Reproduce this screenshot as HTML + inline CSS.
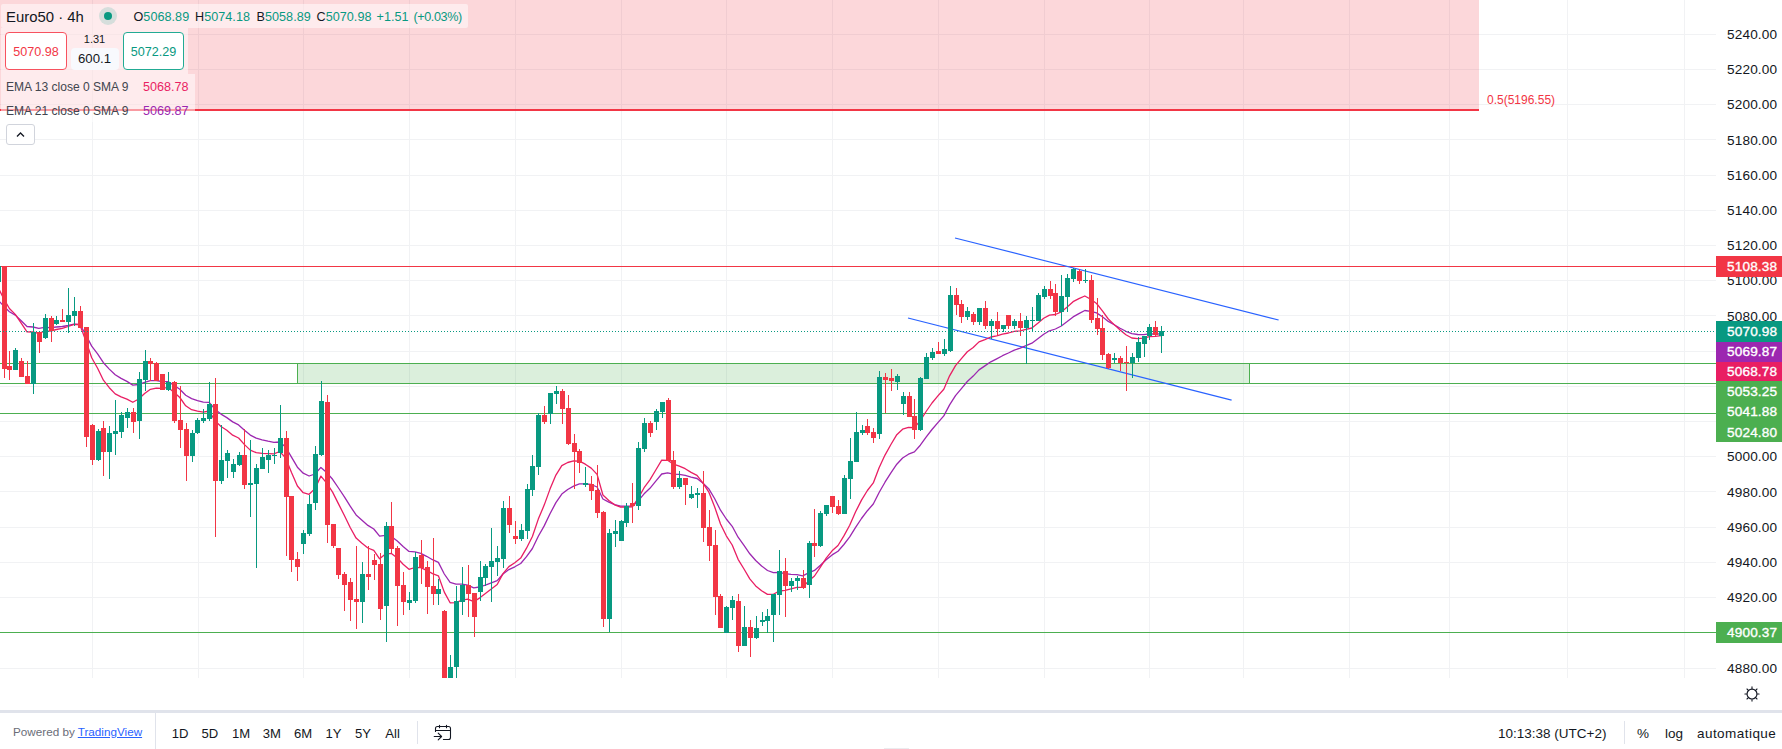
<!DOCTYPE html>
<html lang="fr"><head><meta charset="utf-8"><title>Euro50 4h</title>
<style>
html,body{margin:0;padding:0;background:#fff;}
body{width:1782px;height:749px;position:relative;overflow:hidden;font-family:"Liberation Sans",sans-serif;color:#131722;}
.pane{position:absolute;left:0;top:0;}
.pl{position:absolute;left:1727px;width:54px;height:16px;line-height:16px;font-size:13.6px;letter-spacing:0.15px;color:#131722;white-space:nowrap;}
.tag{position:absolute;left:1716px;width:66px;font-size:13.6px;letter-spacing:0.15px;-webkit-text-stroke:0.35px #fff;color:#fff;box-sizing:border-box;padding-left:11px;white-space:nowrap;}
.axisbg{position:absolute;left:1716px;top:0;width:66px;height:678px;background:#fff;}
.lg{position:absolute;background:rgba(255,255,255,0.5);}
.t{position:absolute;white-space:nowrap;}
.oh{top:9px;font-size:12.6px;line-height:16px;letter-spacing:0.05px;color:#131722}
.oh span{color:#089981}
.sep{position:absolute;left:0;top:710px;width:1782px;height:3px;background:#e0e3eb;}
.bb{position:absolute;top:713px;left:0;width:1782px;height:36px;background:#fff;}
.bt{position:absolute;top:726px;height:16px;line-height:16px;font-size:13.5px;color:#131722;white-space:nowrap;}
</style></head><body>
<svg class="pane" width="1716" height="678" viewBox="0 0 1716 678">
<g shape-rendering="crispEdges" fill="#f1f2f4">
<rect x="92" y="0" width="1" height="678"/>
<rect x="198" y="0" width="1" height="678"/>
<rect x="303" y="0" width="1" height="678"/>
<rect x="409" y="0" width="1" height="678"/>
<rect x="515" y="0" width="1" height="678"/>
<rect x="621" y="0" width="1" height="678"/>
<rect x="726" y="0" width="1" height="678"/>
<rect x="832" y="0" width="1" height="678"/>
<rect x="938" y="0" width="1" height="678"/>
<rect x="1044" y="0" width="1" height="678"/>
<rect x="1149" y="0" width="1" height="678"/>
<rect x="1243" y="0" width="1" height="678"/>
<rect x="1349" y="0" width="1" height="678"/>
<rect x="1449" y="0" width="1" height="678"/>
<rect x="1567" y="0" width="1" height="678"/>
<rect x="1684" y="0" width="1" height="678"/>
<rect x="0" y="34" width="1716" height="1"/>
<rect x="0" y="69" width="1716" height="1"/>
<rect x="0" y="104" width="1716" height="1"/>
<rect x="0" y="139" width="1716" height="1"/>
<rect x="0" y="175" width="1716" height="1"/>
<rect x="0" y="210" width="1716" height="1"/>
<rect x="0" y="245" width="1716" height="1"/>
<rect x="0" y="280" width="1716" height="1"/>
<rect x="0" y="315" width="1716" height="1"/>
<rect x="0" y="351" width="1716" height="1"/>
<rect x="0" y="386" width="1716" height="1"/>
<rect x="0" y="421" width="1716" height="1"/>
<rect x="0" y="456" width="1716" height="1"/>
<rect x="0" y="491" width="1716" height="1"/>
<rect x="0" y="527" width="1716" height="1"/>
<rect x="0" y="562" width="1716" height="1"/>
<rect x="0" y="597" width="1716" height="1"/>
<rect x="0" y="632" width="1716" height="1"/>
<rect x="0" y="668" width="1716" height="1"/>
</g>
<g shape-rendering="crispEdges">
<rect x="0" y="0" width="1479" height="110" fill="#f23645" fill-opacity="0.2"/>
<rect x="0" y="109" width="1479" height="2" fill="#f23645"/>
<rect x="297" y="363" width="953" height="21" fill="#4caf50" fill-opacity="0.2"/>
<rect x="297" y="363" width="1" height="21" fill="#4caf50"/>
<rect x="1249" y="363" width="1" height="21" fill="#4caf50"/>
<rect x="0" y="363" width="1716" height="1" fill="#4caf50"/>
<rect x="0" y="383" width="1716" height="1" fill="#4caf50"/>
<rect x="0" y="413" width="1716" height="1" fill="#4caf50"/>
<rect x="0" y="632" width="1716" height="1" fill="#4caf50"/>
<rect x="0" y="266" width="1716" height="1" fill="#f23645"/>
</g>
<g stroke="#2962ff" stroke-width="1.2" fill="none">
<line x1="955" y1="238" x2="1278.6" y2="320"/>
<line x1="908" y1="318" x2="1231.6" y2="400.2"/>
</g>
<path d="M-8.2 303.0 L-2.3 299.7 L3.5 305.9 L9.4 311.7 L15.3 315.1 L21.2 320.7 L27.0 326.5 L32.9 327.0 L38.8 328.3 L44.7 327.4 L50.5 327.7 L56.4 327.0 L62.3 326.5 L68.2 325.5 L74.1 324.2 L79.9 324.5 L85.8 334.7 L91.7 346.1 L97.6 353.8 L103.4 362.7 L109.3 369.1 L115.2 374.7 L121.1 378.4 L126.9 381.4 L132.8 385.1 L138.7 384.5 L144.6 382.4 L150.4 380.7 L156.3 380.7 L162.2 381.5 L168.1 381.6 L174.0 385.2 L179.8 389.2 L185.7 395.2 L191.6 398.6 L197.5 400.6 L203.3 402.2 L209.2 402.3 L215.1 409.4 L221.0 414.1 L226.8 417.6 L232.7 421.9 L238.6 424.9 L244.5 430.3 L250.3 435.1 L256.2 438.1 L262.1 439.8 L268.0 441.2 L273.9 442.4 L279.7 442.0 L285.6 447.0 L291.5 457.2 L297.4 467.2 L303.2 473.2 L309.1 476.0 L315.0 474.0 L320.9 467.4 L326.7 472.6 L332.6 479.3 L338.5 488.0 L344.4 496.8 L350.2 506.2 L356.1 514.9 L362.0 520.2 L367.9 525.4 L373.8 529.0 L379.6 536.2 L385.5 535.3 L391.4 536.5 L397.3 541.0 L403.1 546.5 L409.0 551.4 L414.9 551.8 L420.8 553.3 L426.6 556.3 L432.5 559.7 L438.4 562.4 L444.3 574.0 L450.1 582.4 L456.0 584.1 L461.9 584.2 L467.8 585.1 L473.7 587.9 L479.5 587.0 L485.4 585.1 L491.3 582.9 L497.2 580.6 L503.0 574.0 L508.9 569.6 L514.8 566.8 L520.7 563.5 L526.5 556.7 L532.4 548.5 L538.3 536.3 L544.2 525.9 L550.0 513.8 L555.9 502.6 L561.8 494.1 L567.7 489.5 L573.6 486.1 L579.4 483.9 L585.3 483.8 L591.2 484.5 L597.1 487.0 L602.9 499.0 L608.8 502.1 L614.7 504.7 L620.6 506.2 L626.4 506.2 L632.3 506.2 L638.2 500.9 L644.1 493.8 L649.9 488.3 L655.8 481.2 L661.7 474.0 L667.6 472.8 L673.5 474.1 L679.3 474.4 L685.2 475.4 L691.1 477.1 L697.0 478.5 L702.8 483.0 L708.7 488.7 L714.6 498.5 L720.5 510.2 L726.3 519.0 L732.2 526.3 L738.1 537.2 L744.0 545.4 L749.8 553.8 L755.7 560.5 L761.6 565.9 L767.5 570.5 L773.4 572.6 L779.2 572.5 L785.1 573.7 L791.0 574.3 L796.9 574.7 L802.7 575.8 L808.6 572.9 L814.5 570.4 L820.4 565.2 L826.2 559.7 L832.1 554.9 L838.0 551.2 L843.9 544.5 L849.7 536.9 L855.6 527.4 L861.5 518.5 L867.4 510.7 L873.3 504.0 L879.1 492.5 L885.0 482.2 L890.9 472.9 L896.8 464.2 L902.6 458.0 L908.5 454.2 L914.4 451.9 L920.3 445.2 L926.1 437.2 L932.0 429.5 L937.9 422.6 L943.8 415.9 L949.6 404.9 L955.5 395.7 L961.4 388.6 L967.3 381.5 L973.2 376.1 L979.0 369.9 L984.9 365.9 L990.8 361.8 L996.7 358.8 L1002.5 355.7 L1008.4 353.0 L1014.3 350.1 L1020.2 348.1 L1026.0 345.6 L1031.9 343.2 L1037.8 338.8 L1043.7 334.3 L1049.5 330.8 L1055.4 329.0 L1061.3 326.0 L1067.2 321.6 L1073.1 316.9 L1078.9 313.6 L1084.8 310.5 L1090.7 311.3 L1096.6 312.9 L1102.4 316.7 L1108.3 321.4 L1114.2 324.7 L1120.1 328.2 L1125.9 331.3 L1131.8 333.7 L1137.7 334.5 L1143.6 334.6 L1149.5 333.9 L1155.3 334.0 L1161.2 333.8" stroke="#9c27b0" stroke-width="1.3" fill="none" stroke-linejoin="round"/>
<path d="M-8.2 290.0 L-2.3 286.6 L3.5 298.3 L9.4 308.5 L15.3 314.4 L21.2 323.2 L27.0 331.9 L32.9 332.0 L38.8 333.3 L44.7 331.2 L50.5 331.1 L56.4 329.5 L62.3 328.4 L68.2 326.5 L74.1 324.3 L79.9 324.7 L85.8 340.8 L91.7 357.8 L97.6 368.3 L103.4 380.2 L109.3 387.7 L115.2 393.9 L121.1 396.9 L126.9 399.1 L132.8 402.3 L138.7 399.0 L144.6 393.5 L150.4 389.3 L156.3 388.1 L162.2 388.3 L168.1 387.4 L174.0 392.2 L179.8 397.5 L185.7 405.8 L191.6 409.7 L197.5 411.1 L203.3 412.1 L209.2 411.0 L215.1 420.9 L221.0 426.5 L226.8 430.3 L232.7 435.2 L238.6 438.0 L244.5 444.6 L250.3 450.1 L256.2 452.7 L262.1 453.3 L268.0 453.6 L273.9 453.8 L279.7 451.5 L285.6 457.9 L291.5 472.5 L297.4 486.0 L303.2 492.7 L309.1 494.3 L315.0 488.6 L320.9 476.1 L326.7 483.1 L332.6 492.1 L338.5 503.9 L344.4 515.5 L350.2 527.5 L356.1 538.1 L362.0 543.3 L367.9 548.0 L373.8 550.4 L379.6 558.8 L385.5 554.1 L391.4 553.4 L397.3 558.0 L403.1 564.2 L409.0 569.3 L414.9 567.5 L420.8 567.6 L426.6 570.3 L432.5 573.6 L438.4 575.8 L444.3 592.1 L450.1 602.8 L456.0 602.6 L461.9 600.1 L467.8 599.2 L473.7 601.6 L479.5 598.1 L485.4 593.6 L491.3 588.9 L497.2 584.5 L503.0 573.6 L508.9 566.6 L514.8 562.7 L520.7 558.1 L526.5 548.2 L532.4 536.5 L538.3 519.1 L544.2 505.1 L550.0 489.1 L555.9 475.1 L561.8 465.6 L567.7 462.5 L573.6 460.9 L579.4 461.1 L585.3 464.2 L591.2 468.1 L597.1 474.4 L602.9 495.0 L608.8 500.4 L614.7 504.8 L620.6 507.1 L626.4 507.0 L632.3 506.8 L638.2 498.4 L644.1 487.7 L649.9 479.8 L655.8 470.0 L661.7 460.2 L667.6 460.3 L673.5 464.1 L679.3 466.1 L685.2 468.7 L691.1 472.4 L697.0 475.3 L702.8 482.8 L708.7 491.8 L714.6 506.7 L720.5 524.0 L726.3 535.8 L732.2 545.0 L738.1 559.3 L744.0 569.0 L749.8 578.8 L755.7 585.9 L761.6 590.8 L767.5 594.4 L773.4 594.3 L779.2 591.0 L785.1 590.3 L791.0 588.9 L796.9 587.4 L802.7 587.4 L808.6 581.0 L814.5 576.0 L820.4 567.1 L826.2 558.2 L832.1 550.8 L838.0 545.5 L843.9 535.9 L849.7 525.2 L855.6 511.8 L861.5 500.1 L867.4 490.5 L873.3 482.9 L879.1 467.8 L885.0 455.1 L890.9 444.5 L896.8 434.7 L902.6 429.2 L908.5 427.4 L914.4 427.7 L920.3 420.6 L926.1 411.5 L932.0 403.0 L937.9 395.9 L943.8 389.2 L949.6 375.8 L955.5 365.6 L961.4 358.6 L967.3 351.8 L973.2 347.5 L979.0 341.9 L984.9 339.6 L990.8 337.0 L996.7 335.8 L1002.5 334.2 L1008.4 333.0 L1014.3 331.3 L1020.2 330.8 L1026.0 329.3 L1031.9 328.0 L1037.8 323.3 L1043.7 318.3 L1049.5 315.1 L1055.4 314.5 L1061.3 311.9 L1067.2 307.1 L1073.1 301.7 L1078.9 298.7 L1084.8 296.0 L1090.7 299.3 L1096.6 303.5 L1102.4 310.8 L1108.3 319.0 L1114.2 324.6 L1120.1 330.0 L1125.9 334.8 L1131.8 338.0 L1137.7 338.6 L1143.6 338.2 L1149.5 336.6 L1155.3 336.4 L1161.2 335.6" stroke="#e91e63" stroke-width="1.3" fill="none" stroke-linejoin="round"/>
<g shape-rendering="crispEdges">
<rect x="-2" y="266" width="1" height="16" fill="#089981"/>
<rect x="-4" y="266" width="5" height="16" fill="#089981"/>
<rect x="4" y="266" width="1" height="112" fill="#f23645"/>
<rect x="2" y="266" width="5" height="103" fill="#f23645"/>
<rect x="9" y="351" width="1" height="29" fill="#f23645"/>
<rect x="7" y="366" width="5" height="4" fill="#f23645"/>
<rect x="15" y="348" width="1" height="22" fill="#089981"/>
<rect x="13" y="350" width="5" height="20" fill="#089981"/>
<rect x="21" y="358" width="1" height="19" fill="#f23645"/>
<rect x="19" y="361" width="5" height="16" fill="#f23645"/>
<rect x="27" y="361" width="1" height="23" fill="#f23645"/>
<rect x="25" y="376" width="5" height="8" fill="#f23645"/>
<rect x="33" y="323" width="1" height="71" fill="#089981"/>
<rect x="31" y="332" width="5" height="52" fill="#089981"/>
<rect x="39" y="332" width="1" height="21" fill="#f23645"/>
<rect x="37" y="332" width="5" height="10" fill="#f23645"/>
<rect x="45" y="314" width="1" height="25" fill="#089981"/>
<rect x="43" y="318" width="5" height="20" fill="#089981"/>
<rect x="51" y="316" width="1" height="26" fill="#f23645"/>
<rect x="49" y="318" width="5" height="13" fill="#f23645"/>
<rect x="56" y="316" width="1" height="9" fill="#089981"/>
<rect x="54" y="320" width="5" height="4" fill="#089981"/>
<rect x="62" y="309" width="1" height="13" fill="#f23645"/>
<rect x="60" y="320" width="5" height="2" fill="#f23645"/>
<rect x="68" y="288" width="1" height="45" fill="#089981"/>
<rect x="66" y="315" width="5" height="7" fill="#089981"/>
<rect x="74" y="297" width="1" height="29" fill="#089981"/>
<rect x="72" y="311" width="5" height="5" fill="#089981"/>
<rect x="80" y="306" width="1" height="22" fill="#f23645"/>
<rect x="78" y="311" width="5" height="17" fill="#f23645"/>
<rect x="86" y="327" width="1" height="120" fill="#f23645"/>
<rect x="84" y="327" width="5" height="110" fill="#f23645"/>
<rect x="92" y="424" width="1" height="41" fill="#f23645"/>
<rect x="90" y="425" width="5" height="35" fill="#f23645"/>
<rect x="98" y="429" width="1" height="32" fill="#089981"/>
<rect x="96" y="431" width="5" height="29" fill="#089981"/>
<rect x="103" y="421" width="1" height="55" fill="#f23645"/>
<rect x="101" y="428" width="5" height="24" fill="#f23645"/>
<rect x="109" y="426" width="1" height="53" fill="#089981"/>
<rect x="107" y="433" width="5" height="19" fill="#089981"/>
<rect x="115" y="400" width="1" height="55" fill="#089981"/>
<rect x="113" y="431" width="5" height="3" fill="#089981"/>
<rect x="121" y="412" width="1" height="26" fill="#089981"/>
<rect x="119" y="415" width="5" height="17" fill="#089981"/>
<rect x="127" y="408" width="1" height="20" fill="#089981"/>
<rect x="125" y="412" width="5" height="6" fill="#089981"/>
<rect x="133" y="408" width="1" height="25" fill="#f23645"/>
<rect x="131" y="412" width="5" height="10" fill="#f23645"/>
<rect x="139" y="372" width="1" height="67" fill="#089981"/>
<rect x="137" y="379" width="5" height="42" fill="#089981"/>
<rect x="145" y="350" width="1" height="41" fill="#089981"/>
<rect x="143" y="361" width="5" height="19" fill="#089981"/>
<rect x="150" y="358" width="1" height="23" fill="#f23645"/>
<rect x="148" y="361" width="5" height="3" fill="#f23645"/>
<rect x="156" y="362" width="1" height="19" fill="#f23645"/>
<rect x="154" y="363" width="5" height="18" fill="#f23645"/>
<rect x="162" y="374" width="1" height="16" fill="#f23645"/>
<rect x="160" y="374" width="5" height="16" fill="#f23645"/>
<rect x="168" y="372" width="1" height="19" fill="#089981"/>
<rect x="166" y="382" width="5" height="8" fill="#089981"/>
<rect x="174" y="381" width="1" height="42" fill="#f23645"/>
<rect x="172" y="382" width="5" height="39" fill="#f23645"/>
<rect x="180" y="386" width="1" height="62" fill="#f23645"/>
<rect x="178" y="420" width="5" height="10" fill="#f23645"/>
<rect x="186" y="423" width="1" height="58" fill="#f23645"/>
<rect x="184" y="429" width="5" height="27" fill="#f23645"/>
<rect x="192" y="430" width="1" height="32" fill="#089981"/>
<rect x="190" y="433" width="5" height="23" fill="#089981"/>
<rect x="197" y="418" width="1" height="16" fill="#089981"/>
<rect x="195" y="420" width="5" height="13" fill="#089981"/>
<rect x="203" y="409" width="1" height="14" fill="#089981"/>
<rect x="201" y="418" width="5" height="3" fill="#089981"/>
<rect x="209" y="382" width="1" height="39" fill="#089981"/>
<rect x="207" y="404" width="5" height="15" fill="#089981"/>
<rect x="215" y="378" width="1" height="159" fill="#f23645"/>
<rect x="213" y="404" width="5" height="77" fill="#f23645"/>
<rect x="221" y="425" width="1" height="59" fill="#089981"/>
<rect x="219" y="460" width="5" height="21" fill="#089981"/>
<rect x="227" y="450" width="1" height="28" fill="#089981"/>
<rect x="225" y="453" width="5" height="8" fill="#089981"/>
<rect x="233" y="459" width="1" height="19" fill="#089981"/>
<rect x="231" y="464" width="5" height="8" fill="#089981"/>
<rect x="239" y="452" width="1" height="14" fill="#089981"/>
<rect x="237" y="455" width="5" height="10" fill="#089981"/>
<rect x="244" y="429" width="1" height="60" fill="#f23645"/>
<rect x="242" y="455" width="5" height="30" fill="#f23645"/>
<rect x="250" y="440" width="1" height="77" fill="#089981"/>
<rect x="248" y="483" width="5" height="2" fill="#089981"/>
<rect x="256" y="464" width="1" height="104" fill="#089981"/>
<rect x="254" y="468" width="5" height="16" fill="#089981"/>
<rect x="262" y="448" width="1" height="21" fill="#089981"/>
<rect x="260" y="457" width="5" height="12" fill="#089981"/>
<rect x="268" y="450" width="1" height="23" fill="#089981"/>
<rect x="266" y="455" width="5" height="5" fill="#089981"/>
<rect x="274" y="448" width="1" height="16" fill="#089981"/>
<rect x="272" y="455" width="5" height="1" fill="#089981"/>
<rect x="280" y="405" width="1" height="53" fill="#089981"/>
<rect x="278" y="438" width="5" height="15" fill="#089981"/>
<rect x="286" y="431" width="1" height="125" fill="#f23645"/>
<rect x="284" y="438" width="5" height="59" fill="#f23645"/>
<rect x="291" y="496" width="1" height="76" fill="#f23645"/>
<rect x="289" y="496" width="5" height="64" fill="#f23645"/>
<rect x="297" y="552" width="1" height="29" fill="#f23645"/>
<rect x="295" y="559" width="5" height="8" fill="#f23645"/>
<rect x="303" y="530" width="1" height="24" fill="#089981"/>
<rect x="301" y="533" width="5" height="11" fill="#089981"/>
<rect x="309" y="495" width="1" height="41" fill="#089981"/>
<rect x="307" y="504" width="5" height="30" fill="#089981"/>
<rect x="315" y="446" width="1" height="64" fill="#089981"/>
<rect x="313" y="454" width="5" height="49" fill="#089981"/>
<rect x="321" y="381" width="1" height="75" fill="#089981"/>
<rect x="319" y="401" width="5" height="54" fill="#089981"/>
<rect x="327" y="395" width="1" height="148" fill="#f23645"/>
<rect x="325" y="402" width="5" height="123" fill="#f23645"/>
<rect x="333" y="524" width="1" height="24" fill="#f23645"/>
<rect x="331" y="524" width="5" height="22" fill="#f23645"/>
<rect x="338" y="548" width="1" height="31" fill="#f23645"/>
<rect x="336" y="548" width="5" height="27" fill="#f23645"/>
<rect x="344" y="572" width="1" height="39" fill="#f23645"/>
<rect x="342" y="574" width="5" height="11" fill="#f23645"/>
<rect x="350" y="578" width="1" height="43" fill="#f23645"/>
<rect x="348" y="582" width="5" height="18" fill="#f23645"/>
<rect x="356" y="546" width="1" height="83" fill="#f23645"/>
<rect x="354" y="599" width="5" height="3" fill="#f23645"/>
<rect x="362" y="562" width="1" height="61" fill="#089981"/>
<rect x="360" y="574" width="5" height="28" fill="#089981"/>
<rect x="368" y="546" width="1" height="44" fill="#f23645"/>
<rect x="366" y="574" width="5" height="3" fill="#f23645"/>
<rect x="374" y="554" width="1" height="26" fill="#f23645"/>
<rect x="372" y="560" width="5" height="5" fill="#f23645"/>
<rect x="380" y="553" width="1" height="67" fill="#f23645"/>
<rect x="378" y="564" width="5" height="45" fill="#f23645"/>
<rect x="386" y="522" width="1" height="120" fill="#089981"/>
<rect x="384" y="526" width="5" height="80" fill="#089981"/>
<rect x="391" y="502" width="1" height="51" fill="#f23645"/>
<rect x="389" y="526" width="5" height="23" fill="#f23645"/>
<rect x="397" y="546" width="1" height="80" fill="#f23645"/>
<rect x="395" y="548" width="5" height="38" fill="#f23645"/>
<rect x="403" y="572" width="1" height="43" fill="#f23645"/>
<rect x="401" y="585" width="5" height="17" fill="#f23645"/>
<rect x="409" y="592" width="1" height="18" fill="#089981"/>
<rect x="407" y="600" width="5" height="3" fill="#089981"/>
<rect x="415" y="552" width="1" height="51" fill="#089981"/>
<rect x="413" y="557" width="5" height="44" fill="#089981"/>
<rect x="421" y="540" width="1" height="44" fill="#f23645"/>
<rect x="419" y="555" width="5" height="13" fill="#f23645"/>
<rect x="427" y="561" width="1" height="53" fill="#f23645"/>
<rect x="425" y="567" width="5" height="20" fill="#f23645"/>
<rect x="433" y="538" width="1" height="67" fill="#f23645"/>
<rect x="431" y="586" width="5" height="8" fill="#f23645"/>
<rect x="438" y="579" width="1" height="26" fill="#089981"/>
<rect x="436" y="589" width="5" height="5" fill="#089981"/>
<rect x="444" y="610" width="1" height="90" fill="#f23645"/>
<rect x="442" y="611" width="5" height="89" fill="#f23645"/>
<rect x="450" y="655" width="1" height="45" fill="#089981"/>
<rect x="448" y="667" width="5" height="23" fill="#089981"/>
<rect x="456" y="586" width="1" height="104" fill="#089981"/>
<rect x="454" y="601" width="5" height="66" fill="#089981"/>
<rect x="462" y="567" width="1" height="48" fill="#089981"/>
<rect x="460" y="585" width="5" height="17" fill="#089981"/>
<rect x="468" y="565" width="1" height="52" fill="#f23645"/>
<rect x="466" y="585" width="5" height="9" fill="#f23645"/>
<rect x="474" y="593" width="1" height="44" fill="#f23645"/>
<rect x="472" y="593" width="5" height="24" fill="#f23645"/>
<rect x="480" y="561" width="1" height="40" fill="#089981"/>
<rect x="478" y="577" width="5" height="15" fill="#089981"/>
<rect x="485" y="564" width="1" height="22" fill="#089981"/>
<rect x="483" y="566" width="5" height="12" fill="#089981"/>
<rect x="491" y="528" width="1" height="74" fill="#089981"/>
<rect x="489" y="561" width="5" height="6" fill="#089981"/>
<rect x="497" y="546" width="1" height="30" fill="#089981"/>
<rect x="495" y="558" width="5" height="4" fill="#089981"/>
<rect x="503" y="501" width="1" height="67" fill="#089981"/>
<rect x="501" y="508" width="5" height="51" fill="#089981"/>
<rect x="509" y="496" width="1" height="37" fill="#f23645"/>
<rect x="507" y="508" width="5" height="17" fill="#f23645"/>
<rect x="515" y="521" width="1" height="23" fill="#f23645"/>
<rect x="513" y="536" width="5" height="3" fill="#f23645"/>
<rect x="521" y="524" width="1" height="17" fill="#089981"/>
<rect x="519" y="530" width="5" height="9" fill="#089981"/>
<rect x="527" y="484" width="1" height="55" fill="#089981"/>
<rect x="525" y="489" width="5" height="42" fill="#089981"/>
<rect x="532" y="455" width="1" height="41" fill="#089981"/>
<rect x="530" y="466" width="5" height="24" fill="#089981"/>
<rect x="538" y="413" width="1" height="62" fill="#089981"/>
<rect x="536" y="415" width="5" height="52" fill="#089981"/>
<rect x="544" y="406" width="1" height="18" fill="#f23645"/>
<rect x="542" y="415" width="5" height="7" fill="#f23645"/>
<rect x="550" y="393" width="1" height="31" fill="#089981"/>
<rect x="548" y="393" width="5" height="21" fill="#089981"/>
<rect x="556" y="386" width="1" height="18" fill="#089981"/>
<rect x="554" y="391" width="5" height="3" fill="#089981"/>
<rect x="562" y="389" width="1" height="35" fill="#f23645"/>
<rect x="560" y="391" width="5" height="18" fill="#f23645"/>
<rect x="568" y="395" width="1" height="50" fill="#f23645"/>
<rect x="566" y="408" width="5" height="36" fill="#f23645"/>
<rect x="574" y="434" width="1" height="55" fill="#f23645"/>
<rect x="572" y="443" width="5" height="9" fill="#f23645"/>
<rect x="579" y="449" width="1" height="24" fill="#f23645"/>
<rect x="577" y="451" width="5" height="12" fill="#f23645"/>
<rect x="585" y="467" width="1" height="20" fill="#089981"/>
<rect x="583" y="483" width="5" height="2" fill="#089981"/>
<rect x="591" y="476" width="1" height="24" fill="#f23645"/>
<rect x="589" y="484" width="5" height="7" fill="#f23645"/>
<rect x="597" y="465" width="1" height="53" fill="#f23645"/>
<rect x="595" y="490" width="5" height="23" fill="#f23645"/>
<rect x="603" y="511" width="1" height="116" fill="#f23645"/>
<rect x="601" y="512" width="5" height="107" fill="#f23645"/>
<rect x="609" y="529" width="1" height="103" fill="#089981"/>
<rect x="607" y="533" width="5" height="86" fill="#089981"/>
<rect x="615" y="520" width="1" height="27" fill="#089981"/>
<rect x="613" y="531" width="5" height="3" fill="#089981"/>
<rect x="621" y="520" width="1" height="21" fill="#089981"/>
<rect x="619" y="521" width="5" height="20" fill="#089981"/>
<rect x="626" y="503" width="1" height="24" fill="#089981"/>
<rect x="624" y="506" width="5" height="17" fill="#089981"/>
<rect x="632" y="483" width="1" height="40" fill="#f23645"/>
<rect x="630" y="503" width="5" height="3" fill="#f23645"/>
<rect x="638" y="442" width="1" height="68" fill="#089981"/>
<rect x="636" y="448" width="5" height="58" fill="#089981"/>
<rect x="644" y="418" width="1" height="34" fill="#089981"/>
<rect x="642" y="423" width="5" height="26" fill="#089981"/>
<rect x="650" y="421" width="1" height="16" fill="#f23645"/>
<rect x="648" y="423" width="5" height="10" fill="#f23645"/>
<rect x="656" y="409" width="1" height="21" fill="#089981"/>
<rect x="654" y="411" width="5" height="11" fill="#089981"/>
<rect x="662" y="402" width="1" height="16" fill="#089981"/>
<rect x="660" y="402" width="5" height="10" fill="#089981"/>
<rect x="668" y="398" width="1" height="63" fill="#f23645"/>
<rect x="666" y="400" width="5" height="61" fill="#f23645"/>
<rect x="673" y="451" width="1" height="38" fill="#f23645"/>
<rect x="671" y="460" width="5" height="27" fill="#f23645"/>
<rect x="679" y="471" width="1" height="18" fill="#089981"/>
<rect x="677" y="478" width="5" height="9" fill="#089981"/>
<rect x="685" y="478" width="1" height="27" fill="#f23645"/>
<rect x="683" y="478" width="5" height="7" fill="#f23645"/>
<rect x="691" y="486" width="1" height="13" fill="#089981"/>
<rect x="689" y="494" width="5" height="4" fill="#089981"/>
<rect x="697" y="488" width="1" height="20" fill="#089981"/>
<rect x="695" y="493" width="5" height="2" fill="#089981"/>
<rect x="703" y="471" width="1" height="71" fill="#f23645"/>
<rect x="701" y="493" width="5" height="35" fill="#f23645"/>
<rect x="709" y="510" width="1" height="51" fill="#f23645"/>
<rect x="707" y="527" width="5" height="19" fill="#f23645"/>
<rect x="715" y="530" width="1" height="85" fill="#f23645"/>
<rect x="713" y="545" width="5" height="52" fill="#f23645"/>
<rect x="720" y="594" width="1" height="34" fill="#f23645"/>
<rect x="718" y="596" width="5" height="32" fill="#f23645"/>
<rect x="726" y="606" width="1" height="27" fill="#089981"/>
<rect x="724" y="607" width="5" height="26" fill="#089981"/>
<rect x="732" y="596" width="1" height="24" fill="#089981"/>
<rect x="730" y="600" width="5" height="8" fill="#089981"/>
<rect x="738" y="594" width="1" height="58" fill="#f23645"/>
<rect x="736" y="601" width="5" height="45" fill="#f23645"/>
<rect x="744" y="606" width="1" height="40" fill="#089981"/>
<rect x="742" y="627" width="5" height="19" fill="#089981"/>
<rect x="750" y="620" width="1" height="37" fill="#f23645"/>
<rect x="748" y="627" width="5" height="11" fill="#f23645"/>
<rect x="756" y="616" width="1" height="23" fill="#089981"/>
<rect x="754" y="628" width="5" height="10" fill="#089981"/>
<rect x="762" y="612" width="1" height="14" fill="#089981"/>
<rect x="760" y="620" width="5" height="2" fill="#089981"/>
<rect x="767" y="609" width="1" height="24" fill="#089981"/>
<rect x="765" y="616" width="5" height="5" fill="#089981"/>
<rect x="773" y="594" width="1" height="48" fill="#089981"/>
<rect x="771" y="594" width="5" height="21" fill="#089981"/>
<rect x="779" y="550" width="1" height="65" fill="#089981"/>
<rect x="777" y="571" width="5" height="24" fill="#089981"/>
<rect x="785" y="558" width="1" height="59" fill="#f23645"/>
<rect x="783" y="571" width="5" height="15" fill="#f23645"/>
<rect x="791" y="578" width="1" height="14" fill="#089981"/>
<rect x="789" y="581" width="5" height="5" fill="#089981"/>
<rect x="797" y="576" width="1" height="14" fill="#089981"/>
<rect x="795" y="578" width="5" height="3" fill="#089981"/>
<rect x="803" y="570" width="1" height="19" fill="#f23645"/>
<rect x="801" y="578" width="5" height="10" fill="#f23645"/>
<rect x="809" y="541" width="1" height="57" fill="#089981"/>
<rect x="807" y="543" width="5" height="42" fill="#089981"/>
<rect x="814" y="509" width="1" height="48" fill="#f23645"/>
<rect x="812" y="543" width="5" height="3" fill="#f23645"/>
<rect x="820" y="511" width="1" height="36" fill="#089981"/>
<rect x="818" y="513" width="5" height="33" fill="#089981"/>
<rect x="826" y="505" width="1" height="11" fill="#089981"/>
<rect x="824" y="505" width="5" height="9" fill="#089981"/>
<rect x="832" y="496" width="1" height="17" fill="#f23645"/>
<rect x="830" y="496" width="5" height="11" fill="#f23645"/>
<rect x="838" y="500" width="1" height="15" fill="#f23645"/>
<rect x="836" y="506" width="5" height="8" fill="#f23645"/>
<rect x="844" y="475" width="1" height="39" fill="#089981"/>
<rect x="842" y="478" width="5" height="36" fill="#089981"/>
<rect x="850" y="438" width="1" height="61" fill="#089981"/>
<rect x="848" y="461" width="5" height="18" fill="#089981"/>
<rect x="856" y="412" width="1" height="50" fill="#089981"/>
<rect x="854" y="432" width="5" height="30" fill="#089981"/>
<rect x="862" y="425" width="1" height="10" fill="#089981"/>
<rect x="860" y="430" width="5" height="3" fill="#089981"/>
<rect x="867" y="419" width="1" height="16" fill="#f23645"/>
<rect x="865" y="426" width="5" height="7" fill="#f23645"/>
<rect x="873" y="428" width="1" height="15" fill="#f23645"/>
<rect x="871" y="432" width="5" height="6" fill="#f23645"/>
<rect x="879" y="371" width="1" height="68" fill="#089981"/>
<rect x="877" y="377" width="5" height="57" fill="#089981"/>
<rect x="885" y="373" width="1" height="40" fill="#f23645"/>
<rect x="883" y="377" width="5" height="3" fill="#f23645"/>
<rect x="891" y="369" width="1" height="22" fill="#f23645"/>
<rect x="889" y="378" width="5" height="3" fill="#f23645"/>
<rect x="897" y="374" width="1" height="16" fill="#089981"/>
<rect x="895" y="376" width="5" height="6" fill="#089981"/>
<rect x="903" y="392" width="1" height="23" fill="#089981"/>
<rect x="901" y="396" width="5" height="8" fill="#089981"/>
<rect x="909" y="392" width="1" height="25" fill="#f23645"/>
<rect x="907" y="396" width="5" height="21" fill="#f23645"/>
<rect x="914" y="399" width="1" height="40" fill="#f23645"/>
<rect x="912" y="416" width="5" height="14" fill="#f23645"/>
<rect x="920" y="377" width="1" height="54" fill="#089981"/>
<rect x="918" y="378" width="5" height="52" fill="#089981"/>
<rect x="926" y="353" width="1" height="26" fill="#089981"/>
<rect x="924" y="357" width="5" height="22" fill="#089981"/>
<rect x="932" y="348" width="1" height="12" fill="#089981"/>
<rect x="930" y="352" width="5" height="6" fill="#089981"/>
<rect x="938" y="342" width="1" height="12" fill="#f23645"/>
<rect x="936" y="351" width="5" height="3" fill="#f23645"/>
<rect x="944" y="339" width="1" height="17" fill="#089981"/>
<rect x="942" y="349" width="5" height="5" fill="#089981"/>
<rect x="950" y="286" width="1" height="66" fill="#089981"/>
<rect x="948" y="295" width="5" height="56" fill="#089981"/>
<rect x="956" y="288" width="1" height="27" fill="#f23645"/>
<rect x="954" y="295" width="5" height="10" fill="#f23645"/>
<rect x="961" y="300" width="1" height="23" fill="#f23645"/>
<rect x="959" y="304" width="5" height="13" fill="#f23645"/>
<rect x="967" y="307" width="1" height="13" fill="#089981"/>
<rect x="965" y="311" width="5" height="6" fill="#089981"/>
<rect x="973" y="312" width="1" height="13" fill="#f23645"/>
<rect x="971" y="314" width="5" height="8" fill="#f23645"/>
<rect x="979" y="308" width="1" height="17" fill="#089981"/>
<rect x="977" y="308" width="5" height="14" fill="#089981"/>
<rect x="985" y="301" width="1" height="28" fill="#f23645"/>
<rect x="983" y="308" width="5" height="18" fill="#f23645"/>
<rect x="991" y="319" width="1" height="20" fill="#089981"/>
<rect x="989" y="321" width="5" height="5" fill="#089981"/>
<rect x="997" y="312" width="1" height="24" fill="#f23645"/>
<rect x="995" y="321" width="5" height="8" fill="#f23645"/>
<rect x="1003" y="325" width="1" height="7" fill="#089981"/>
<rect x="1001" y="325" width="5" height="4" fill="#089981"/>
<rect x="1008" y="315" width="1" height="14" fill="#f23645"/>
<rect x="1006" y="315" width="5" height="11" fill="#f23645"/>
<rect x="1014" y="319" width="1" height="10" fill="#089981"/>
<rect x="1012" y="321" width="5" height="5" fill="#089981"/>
<rect x="1020" y="313" width="1" height="23" fill="#f23645"/>
<rect x="1018" y="321" width="5" height="7" fill="#f23645"/>
<rect x="1026" y="316" width="1" height="48" fill="#089981"/>
<rect x="1024" y="320" width="5" height="8" fill="#089981"/>
<rect x="1032" y="307" width="1" height="25" fill="#089981"/>
<rect x="1030" y="320" width="5" height="1" fill="#089981"/>
<rect x="1038" y="293" width="1" height="28" fill="#089981"/>
<rect x="1036" y="295" width="5" height="26" fill="#089981"/>
<rect x="1044" y="286" width="1" height="13" fill="#089981"/>
<rect x="1042" y="289" width="5" height="8" fill="#089981"/>
<rect x="1050" y="281" width="1" height="18" fill="#f23645"/>
<rect x="1048" y="289" width="5" height="7" fill="#f23645"/>
<rect x="1055" y="284" width="1" height="32" fill="#f23645"/>
<rect x="1053" y="293" width="5" height="19" fill="#f23645"/>
<rect x="1061" y="275" width="1" height="51" fill="#089981"/>
<rect x="1059" y="296" width="5" height="16" fill="#089981"/>
<rect x="1067" y="274" width="1" height="38" fill="#089981"/>
<rect x="1065" y="278" width="5" height="19" fill="#089981"/>
<rect x="1073" y="268" width="1" height="14" fill="#089981"/>
<rect x="1071" y="269" width="5" height="10" fill="#089981"/>
<rect x="1079" y="269" width="1" height="15" fill="#f23645"/>
<rect x="1077" y="271" width="5" height="10" fill="#f23645"/>
<rect x="1085" y="269" width="1" height="14" fill="#089981"/>
<rect x="1083" y="280" width="5" height="1" fill="#089981"/>
<rect x="1091" y="275" width="1" height="48" fill="#f23645"/>
<rect x="1089" y="280" width="5" height="40" fill="#f23645"/>
<rect x="1097" y="298" width="1" height="37" fill="#f23645"/>
<rect x="1095" y="318" width="5" height="11" fill="#f23645"/>
<rect x="1102" y="315" width="1" height="45" fill="#f23645"/>
<rect x="1100" y="328" width="5" height="27" fill="#f23645"/>
<rect x="1108" y="353" width="1" height="16" fill="#f23645"/>
<rect x="1106" y="354" width="5" height="14" fill="#f23645"/>
<rect x="1114" y="353" width="1" height="10" fill="#089981"/>
<rect x="1112" y="358" width="5" height="2" fill="#089981"/>
<rect x="1120" y="356" width="1" height="15" fill="#f23645"/>
<rect x="1118" y="358" width="5" height="5" fill="#f23645"/>
<rect x="1126" y="346" width="1" height="45" fill="#f23645"/>
<rect x="1124" y="362" width="5" height="1" fill="#f23645"/>
<rect x="1132" y="353" width="1" height="25" fill="#089981"/>
<rect x="1130" y="357" width="5" height="6" fill="#089981"/>
<rect x="1138" y="337" width="1" height="25" fill="#089981"/>
<rect x="1136" y="342" width="5" height="16" fill="#089981"/>
<rect x="1144" y="336" width="1" height="21" fill="#089981"/>
<rect x="1142" y="336" width="5" height="8" fill="#089981"/>
<rect x="1149" y="324" width="1" height="16" fill="#089981"/>
<rect x="1147" y="327" width="5" height="9" fill="#089981"/>
<rect x="1155" y="321" width="1" height="15" fill="#f23645"/>
<rect x="1153" y="327" width="5" height="8" fill="#f23645"/>
<rect x="1161" y="326" width="1" height="27" fill="#089981"/>
<rect x="1159" y="331" width="5" height="5" fill="#089981"/>
</g>
<line x1="0" y1="331.5" x2="1716" y2="331.5" stroke="#089981" stroke-width="1" stroke-dasharray="1 2" shape-rendering="crispEdges"/>
<text x="1487" y="104" font-family="Liberation Sans, sans-serif" font-size="12" fill="#f23645">0.5(5196.55)</text>
</svg>
<div class="axisbg"></div>
<div class="pl" style="top:26.9px">5240.00</div>
<div class="pl" style="top:62.1px">5220.00</div>
<div class="pl" style="top:97.3px">5200.00</div>
<div class="pl" style="top:132.5px">5180.00</div>
<div class="pl" style="top:167.7px">5160.00</div>
<div class="pl" style="top:203.0px">5140.00</div>
<div class="pl" style="top:238.2px">5120.00</div>
<div class="pl" style="top:273.4px">5100.00</div>
<div class="pl" style="top:308.6px">5080.00</div>
<div class="pl" style="top:343.8px">5060.00</div>
<div class="pl" style="top:379.0px">5040.00</div>
<div class="pl" style="top:414.2px">5020.00</div>
<div class="pl" style="top:449.4px">5000.00</div>
<div class="pl" style="top:484.7px">4980.00</div>
<div class="pl" style="top:519.9px">4960.00</div>
<div class="pl" style="top:555.1px">4940.00</div>
<div class="pl" style="top:590.3px">4920.00</div>
<div class="pl" style="top:625.5px">4900.00</div>
<div class="pl" style="top:660.7px">4880.00</div>
<div class="tag" style="top:256px;height:21px;line-height:22px;background:#f23645">5108.38</div>
<div class="tag" style="top:321px;height:21px;line-height:22px;background:#089981">5070.98</div>
<div class="tag" style="top:342px;height:20px;line-height:20px;background:#9c27b0">5069.87</div>
<div class="tag" style="top:362px;height:19px;line-height:20px;background:#e91e63">5068.78</div>
<div class="tag" style="top:381px;height:21px;line-height:22px;background:#4caf50">5053.25</div>
<div class="tag" style="top:402px;height:20px;line-height:20px;background:#4caf50">5041.88</div>
<div class="tag" style="top:422px;height:20px;line-height:21px;background:#4caf50">5024.80</div>
<div class="tag" style="top:622px;height:21px;line-height:22px;background:#4caf50">4900.37</div>
<!-- legend -->
<div class="lg" style="left:1px;top:4px;width:467px;height:24px;border-radius:2px"></div>
<div class="lg" style="left:1px;top:28px;width:187px;height:46px;"></div>
<div class="lg" style="left:1px;top:74px;width:194px;height:48px;"></div>
<div class="t" style="left:6px;top:8px;font-size:14.9px;line-height:18px;color:#131722">Euro50 · 4h</div>
<div style="position:absolute;left:99px;top:7px;width:18px;height:18px;border-radius:9px;background:rgba(8,153,129,0.16)"></div>
<div style="position:absolute;left:104px;top:12px;width:8px;height:8px;border-radius:4px;background:#089981"></div>
<div class="t oh" style="left:133.5px">O<span>5068.89</span></div>
<div class="t oh" style="left:195px">H<span>5074.18</span></div>
<div class="t oh" style="left:256.5px">B<span>5058.89</span></div>
<div class="t oh" style="left:316.5px">C<span>5070.98</span></div>
<div class="t oh" style="left:376.5px"><span>+1.51</span></div>
<div class="t oh" style="left:413.5px;letter-spacing:-0.4px"><span>(+0.03%)</span></div>
<div style="position:absolute;left:5px;top:32px;width:62px;height:38px;box-sizing:border-box;border:1px solid #f7525f;border-radius:4px;background:#fff"></div>
<div class="t" style="left:5px;top:44px;width:62px;text-align:center;font-size:12.6px;line-height:16px;color:#f23645">5070.98</div>
<div class="t" style="left:71px;top:31px;width:47px;text-align:center;font-size:11px;line-height:16px;color:#131722">1.31</div>
<div style="position:absolute;left:71px;top:48px;width:48px;height:22px;border-radius:4px;background:#f8f9fd"></div>
<div class="t" style="left:71px;top:50px;width:47px;text-align:center;font-size:13.2px;line-height:18px;color:#131722">600.1</div>
<div style="position:absolute;left:123px;top:32px;width:61px;height:38px;box-sizing:border-box;border:1px solid #22ab94;border-radius:4px;background:#fff"></div>
<div class="t" style="left:123px;top:44px;width:61px;text-align:center;font-size:12.6px;line-height:16px;color:#089981">5072.29</div>
<div class="t" style="left:6px;top:79px;font-size:12.05px;line-height:16px;color:#42464f">EMA 13 close 0 SMA 9</div>
<div class="t" style="left:143px;top:79px;font-size:12.6px;line-height:16px;color:#e91e63">5068.78</div>
<div class="t" style="left:6px;top:103px;font-size:12.05px;line-height:16px;color:#42464f">EMA 21 close 0 SMA 9</div>
<div class="t" style="left:143px;top:103px;font-size:12.6px;line-height:16px;color:#9c27b0">5069.87</div>
<div style="position:absolute;left:6px;top:124px;width:29px;height:21px;box-sizing:border-box;border:1px solid #d1d4dc;border-radius:3px;background:#fff"></div>
<svg style="position:absolute;left:6px;top:124px" width="29" height="21" viewBox="0 0 29 21"><path d="M11 12.5 L14.5 9 L18 12.5" fill="none" stroke="#131722" stroke-width="1.3"/></svg>
<!-- gear -->
<svg style="position:absolute;left:1742.4px;top:684.4px" width="20" height="20" viewBox="-10 -10 20 20"><circle cx="0" cy="0" r="4.95" fill="none" stroke="#131722" stroke-width="1.15"/><g stroke="#131722" stroke-width="1.1" stroke-linecap="round"><path d="M0 -5.5V-7.1M0 5.5V7.1M-5.5 0H-7.1M5.5 0H7.1M3.9 3.9L5 5M-3.9 3.9L-5 5M3.9 -3.9L5 -5M-3.9 -3.9L-5 -5"/></g></svg>
<!-- bottom bar -->
<div class="sep"></div>
<div class="bb"></div>
<div style="position:absolute;left:155px;top:713px;width:1px;height:36px;background:#e0e3eb"></div>
<div class="bt" style="left:13px;top:724px;font-size:11.7px;color:#6a6d78">Powered by <span style="color:#2962ff;text-decoration:underline">TradingView</span></div>
<div class="bt" style="left:160.0px;width:40px;text-align:center;font-size:13.1px">1D</div>
<div class="bt" style="left:189.9px;width:40px;text-align:center;font-size:13.1px">5D</div>
<div class="bt" style="left:221.0px;width:40px;text-align:center;font-size:13.1px">1M</div>
<div class="bt" style="left:251.8px;width:40px;text-align:center;font-size:13.1px">3M</div>
<div class="bt" style="left:283.2px;width:40px;text-align:center;font-size:13.1px">6M</div>
<div class="bt" style="left:313.6px;width:40px;text-align:center;font-size:13.1px">1Y</div>
<div class="bt" style="left:343.0px;width:40px;text-align:center;font-size:13.1px">5Y</div>
<div class="bt" style="left:372.6px;width:40px;text-align:center;font-size:13.1px">All</div>
<div style="position:absolute;left:417px;top:721px;width:1px;height:23px;background:#e0e3eb"></div>
<svg style="position:absolute;left:430px;top:720px" width="26" height="26" viewBox="0 0 26 26"><g fill="none" stroke="#131722" stroke-width="1.1" stroke-linecap="round" stroke-linejoin="round"><path d="M5.5 11.5V8.5a2 2 0 0 1 2-2H18.5a2 2 0 0 1 2 2V17.5a2 2 0 0 1-2 2H13.4"/><path d="M5.5 10.5H20.5M9.5 5.2v2.5M16.5 5.2v2.5"/><path d="M4.2 16.5H11.6M8.2 13.2l3.4 3.3-3.4 3.3"/></g></svg>
<div style="position:absolute;left:884px;top:748px;width:25px;height:1px;background:#ebecef"></div>
<div class="bt" style="left:1498px">10:13:38 (UTC+2)</div>
<div style="position:absolute;left:1624px;top:721px;width:1px;height:23px;background:#e0e3eb"></div>
<div class="bt" style="left:1637px">%</div>
<div class="bt" style="left:1665px">log</div>
<div class="bt" style="left:1697px;letter-spacing:0.45px">automatique</div>
</body></html>
